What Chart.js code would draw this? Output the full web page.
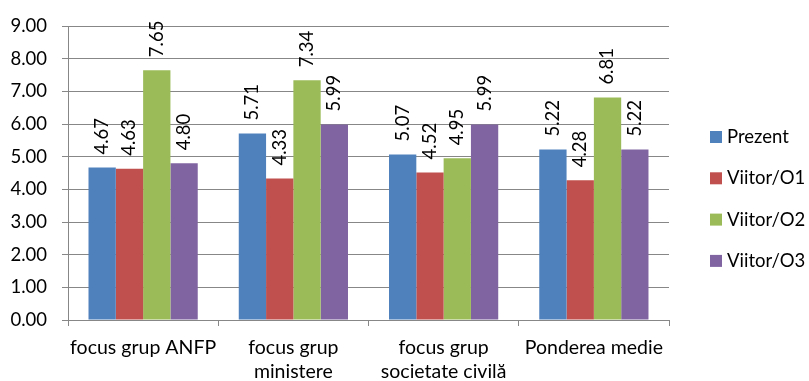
<!DOCTYPE html>
<html>
<head>
<meta charset="utf-8">
<script src="https://cdn.jsdelivr.net/npm/chart.js@4"></script>
<style>
  html, body { margin: 0; padding: 0; background: #fff; }
  #wrap { width: 809px; height: 381px; }
</style>
</head>
<body>
<div id="wrap"><canvas id="c" width="809" height="381"></canvas></div>
<script>
// Categories (multi-line labels where the axis wraps them)
const categories = [
  ['focus grup ANFP'],
  ['focus grup', 'ministere'],
  ['focus grup', 'societate civilă'],
  ['Ponderea medie']
];
const seriesNames = ['Prezent', 'Viitor/O1', 'Viitor/O2', 'Viitor/O3'];
const prezent  = [4.67, 5.71, 5.07, 5.22];
const viitorO1 = [4.63, 4.33, 4.52, 4.28];
const viitorO2 = [7.65, 7.34, 4.95, 6.81];
const viitorO3 = [4.80, 5.99, 5.99, 5.22];
const yTicks = [0, 1, 2, 3, 4, 5, 6, 7, 8, 9];

const colors = ['#4F81BD', '#C0504D', '#9BBB59', '#8064A2'];
const FONT = 'Lato, "Open Sans", sans-serif';
const FS = 18.5;
const FS_X = 19.5;
const GRID = '#878787';

// Vertical value labels above each bar
const barValueLabels = {
  id: 'barValueLabels',
  afterDatasetsDraw(chart) {
    const ctx = chart.ctx;
    ctx.save();
    ctx.font = FS + 'px ' + FONT;
    ctx.fillStyle = '#000';
    ctx.textAlign = 'left';
    ctx.textBaseline = 'middle';
    chart.data.datasets.forEach((ds, di) => {
      const meta = chart.getDatasetMeta(di);
      meta.data.forEach((bar, i) => {
        const txt = Number(ds.data[i]).toFixed(2);
        ctx.save();
        ctx.translate(bar.x, bar.y - 13);
        ctx.rotate(-Math.PI / 2);
        ctx.fillText(txt, 0, 0);
        ctx.restore();
      });
    });
    ctx.restore();
  }
};

// Legend column to the right of the plot
const sideLegend = {
  id: 'sideLegend',
  afterDraw(chart, args, opts) {
    const ctx = chart.ctx;
    ctx.save();
    ctx.font = FS + 'px ' + FONT;
    ctx.textBaseline = 'middle';
    ctx.textAlign = 'left';
    chart.data.datasets.forEach((ds, i) => {
      const cy = opts.top + i * opts.step;
      ctx.fillStyle = ds.backgroundColor;
      ctx.fillRect(opts.x, cy - opts.box / 2, opts.box, opts.box);
      ctx.fillStyle = '#000';
      ctx.fillText(ds.label, opts.x + opts.box + 5, cy);
    });
    ctx.restore();
  }
};

const seriesValues = [prezent, viitorO1, viitorO2, viitorO3];

new Chart(document.getElementById('c'), {
  type: 'bar',
  data: {
    labels: categories,
    datasets: seriesNames.map((name, i) => ({
      label: name,
      data: seriesValues[i],
      backgroundColor: colors[i],
      borderWidth: 0,
      categoryPercentage: 0.727,
      barPercentage: 1.0
    }))
  },
  options: {
    responsive: false,
    animation: false,
    layout: { padding: { left: 0, top: 24, right: 140, bottom: 0 } },
    plugins: {
      legend: { display: false },
      tooltip: { enabled: false },
      sideLegend: { x: 710, top: 137, step: 41.3, box: 12 }
    },
    scales: {
      x: {
        grid: {
          offset: true,
          drawOnChartArea: false,
          drawTicks: true,
          tickLength: 6,
          color: GRID
        },
        border: { color: GRID, width: 1 },
        ticks: {
          color: '#000',
          padding: 10,
          font: { family: FONT, size: FS_X, lineHeight: 1.23 },
          maxRotation: 0,
          autoSkip: false
        },
        afterFit(scale) { scale.height = 61; }
      },
      y: {
        min: 0,
        max: 9,
        afterBuildTicks(scale) { scale.ticks = yTicks.map(v => ({ value: v })); },
        grid: {
          color: GRID,
          tickLength: 6,
          drawTicks: true
        },
        border: { color: GRID, width: 1 },
        ticks: {
          color: '#000',
          padding: 15,
          font: { family: FONT, size: FS },
          callback: v => Number(v).toFixed(2)
        },
        afterFit(scale) { scale.width = 68; }
      }
    }
  },
  plugins: [barValueLabels, sideLegend]
});
</script>
</body>
</html>
